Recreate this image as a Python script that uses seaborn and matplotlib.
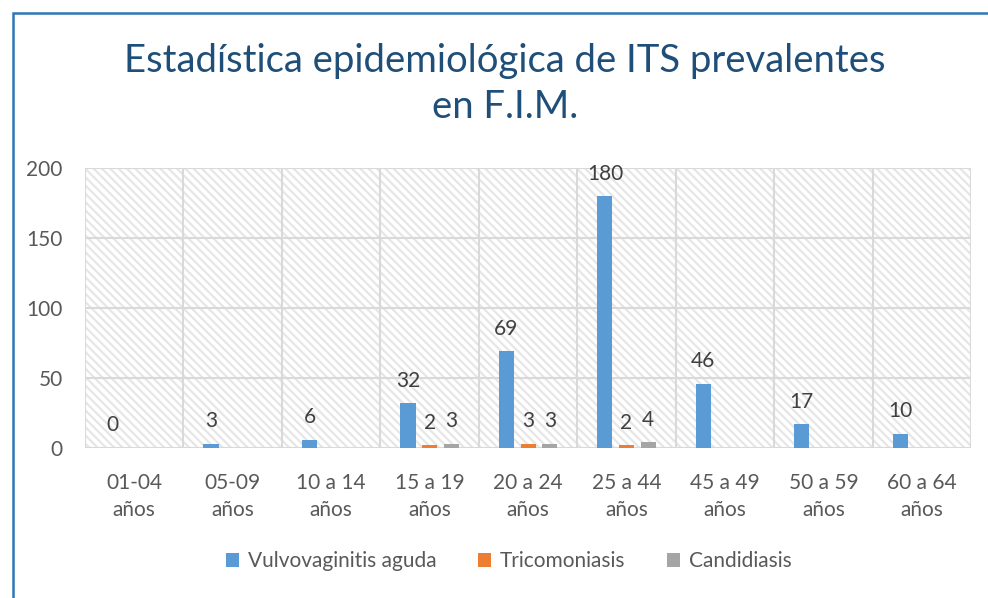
import matplotlib

matplotlib.use("Agg")

import matplotlib.pyplot as plt
import numpy as np
import pandas as pd
import seaborn as sns
from matplotlib.patches import Patch, Rectangle

# values; None = no data label / no bar
AGE_GROUPS = [
    "01-04\naños", "05-09\naños", "10 a 14\naños", "15 a 19\naños", "20 a 24\naños",
    "25 a 44\naños", "45 a 49\naños", "50 a 59\naños", "60 a 64\naños",
]
VULVO = [0, 3, 6, 32, 69, 180, 46, 17, 10]
TRICO = [None, None, None, 2, 3, 2, None, None, None]
CANDI = [None, None, None, 3, 3, 4, None, None, None]
SERIES = ["Vulvovaginitis aguda", "Tricomoniasis", "Candidiasis"]
COLORS = ["#5B9BD5", "#ED7D31", "#A5A5A5"]
Y_TICKS = [0, 50, 100, 150, 200]

TEXT = "#595959"

sns.set_theme(style="white")
plt.rcParams["font.family"] = ["Lato", "DejaVu Sans"]
plt.rcParams["hatch.linewidth"] = 1.6
plt.rcParams["hatch.color"] = "#E6E6E6"

rows = []
for name, vals in zip(SERIES, [VULVO, TRICO, CANDI]):
    for grp, v in zip(AGE_GROUPS, vals):
        rows.append({"grupo": grp, "serie": name, "casos": 0 if v is None else v})
df = pd.DataFrame(rows)

fig = plt.figure(figsize=(9.88, 5.98), dpi=100)
ax = fig.add_axes([0.086, 0.251, 0.897, 0.468])

# hatched plot area like Excel's wide downward diagonal fill
ax.add_patch(Rectangle((0, 0), 1, 1, transform=ax.transAxes, facecolor="white",
                       edgecolor="#E6E6E6", hatch="\\\\\\\\", linewidth=0, zorder=0))

sns.barplot(data=df, x="grupo", y="casos", hue="serie", hue_order=SERIES,
            order=AGE_GROUPS, palette=COLORS, saturation=1, width=0.66, gap=0.3,
            linewidth=0, ax=ax, zorder=3, legend=False)

for cont, vals in zip(ax.containers, [VULVO, TRICO, CANDI]):
    labels = ["" if v is None else str(v) for v in vals]
    ax.bar_label(cont, labels=labels, padding=9, fontsize=15, color="#404040")

ax.set_ylim(0, 200)
ax.set_xlim(-0.5, len(AGE_GROUPS) - 0.5)
ax.set_yticks(Y_TICKS)
ax.set_xlabel("")
ax.set_ylabel("")
ax.set_xticks(np.arange(len(AGE_GROUPS)))
ax.set_xticklabels(AGE_GROUPS, linespacing=1.45)
ax.tick_params(axis="both", length=0, labelsize=15, labelcolor=TEXT)
ax.tick_params(axis="x", pad=18)
ax.tick_params(axis="y", pad=16)

for y in Y_TICKS:
    ax.axhline(y, color="#D9D9D9", lw=1.5, zorder=1)
for x in np.arange(-0.5, len(AGE_GROUPS), 1):
    ax.axvline(x, color="#D9D9D9", lw=1.5, zorder=1)
for s in ax.spines.values():
    s.set_visible(False)

handles = [Patch(facecolor=c, edgecolor="none") for c in COLORS]
ax.legend(handles, SERIES, loc="center", bbox_to_anchor=(0.478, -0.405), ncol=3,
          frameon=False, fontsize=15, handlelength=0.65, handleheight=0.65,
          columnspacing=2.0, handletextpad=0.4, labelcolor=TEXT)

fig.text(0.511, 0.86, "Estadística epidemiológica de ITS prevalentes\nen F.I.M.",
         ha="center", va="center", fontsize=27.5, color="#1F4E79", linespacing=1.35)

# blue frame on the left and top of the chart object
fig.add_artist(Rectangle((13 / 988, -0.1), 1.2, 1 - 13 / 598 + 0.1,
                         transform=fig.transFigure, facecolor="none",
                         edgecolor="#2E75B6", linewidth=1.8))

fig.savefig("out.png", dpi=100)
